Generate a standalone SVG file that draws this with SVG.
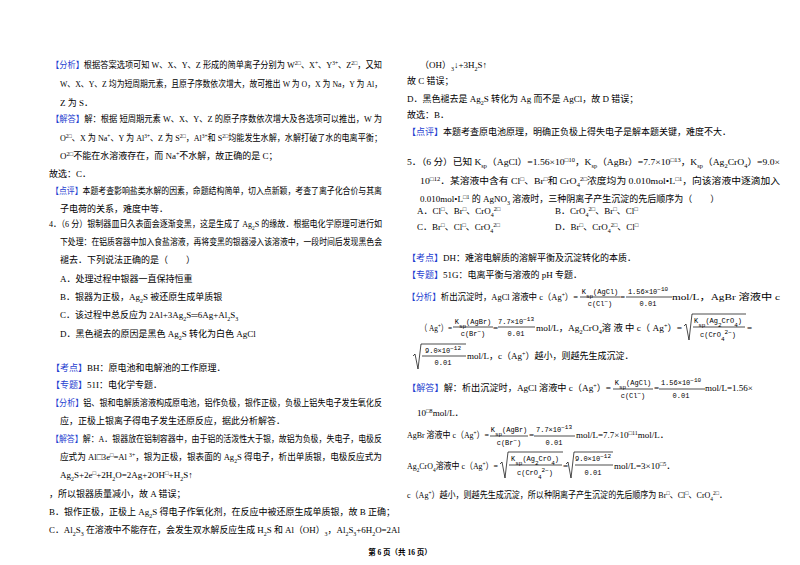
<svg xmlns="http://www.w3.org/2000/svg" width="800" height="565" viewBox="0 0 800 565">
<style>
text{font-family:"Liberation Serif","Noto Sans CJK SC",serif;font-size:9px;fill:#000}
.b{fill:#1f3fd0}
.s{font-size:6px}
.f{font-family:"Liberation Mono","Noto Sans CJK SC",monospace;font-size:7px}
.ft{font-size:7.5px;font-weight:bold}
line,path{stroke:#000;stroke-width:0.7;fill:none}
</style>
<rect width="800" height="565" fill="#fff"/>
<g id="left">
<text x="51" y="68" textLength="331" lengthAdjust="spacingAndGlyphs"><tspan class="b">【分析】</tspan>根据答案选项可知 W、X、Y、Z 形成的简单离子分别为 W<tspan class="s" baseline-shift="super">2□</tspan>、X<tspan class="s" baseline-shift="super">+</tspan>、Y<tspan class="s" baseline-shift="super">3+</tspan>、Z<tspan class="s" baseline-shift="super">2□</tspan>，又知</text>
<text x="60" y="87" textLength="322" lengthAdjust="spacingAndGlyphs">W、X、Y、Z 均为短周期元素，且原子序数依次增大，故可推出 W 为 O，X 为 Na，Y 为 Al，</text>
<text x="60" y="106">Z 为 S．</text>
<text x="51" y="122" textLength="331" lengthAdjust="spacingAndGlyphs"><tspan class="b">【解答】</tspan>解：根据 短周期元素 W、X、Y、Z 的原子序数依次增大及各选项可以推出，W 为</text>
<text x="60" y="141" textLength="322" lengthAdjust="spacingAndGlyphs">O<tspan class="s" baseline-shift="super">2□</tspan>、X 为 Na<tspan class="s" baseline-shift="super">+</tspan>、Y 为 Al<tspan class="s" baseline-shift="super">3+</tspan>、Z 为 S<tspan class="s" baseline-shift="super">2□</tspan>，Al<tspan class="s" baseline-shift="super">3+</tspan>和 S<tspan class="s" baseline-shift="super">2□</tspan>均能发生水解，水解打破了水的电离平衡；</text>
<text x="60" y="159">O<tspan class="s" baseline-shift="super">2□</tspan>不能在水溶液存在，而 Na<tspan class="s" baseline-shift="super">+</tspan>不水解，故正确的是 C；</text>
<text x="49" y="177">故选：C．</text>
<text x="51" y="194" textLength="331" lengthAdjust="spacingAndGlyphs"><tspan class="b">【点评】</tspan>本题考查影响盐类水解的因素，命题结构简单，切入点新颖，考查了离子化合价与其离</text>
<text x="60" y="212">子电荷的关系，难度中等．</text>
<text x="49" y="227" textLength="333" lengthAdjust="spacingAndGlyphs">4．（6 分）银制器皿日久表面会逐渐变黑，这是生成了 Ag<tspan class="s" baseline-shift="sub">2</tspan>S 的缘故．根据电化学原理可进行如</text>
<text x="60" y="245" textLength="322" lengthAdjust="spacingAndGlyphs">下处理：在铝质容器中加入食盐溶液，再将变黑的银器浸入该溶液中，一段时间后发现黑色会</text>
<text x="60" y="263">褪去．下列说法正确的是（　　）</text>
<text x="60" y="282">A．处理过程中银器一直保持恒重</text>
<text x="60" y="300">B．银器为正极，Ag<tspan class="s" baseline-shift="sub">2</tspan>S 被还原生成单质银</text>
<text x="60" y="318">C．该过程中总反应为 2Al+3Ag<tspan class="s" baseline-shift="sub">2</tspan>S═6Ag+Al<tspan class="s" baseline-shift="sub">2</tspan>S<tspan class="s" baseline-shift="sub">3</tspan></text>
<text x="60" y="337">D．黑色褪去的原因是黑色 Ag<tspan class="s" baseline-shift="sub">2</tspan>S 转化为白色 AgCl</text>
<text x="51" y="371"><tspan class="b">【考点】</tspan>BH：原电池和电解池的工作原理．</text>
<text x="51" y="388"><tspan class="b">【专题】</tspan>51I：电化学专题．</text>
<text x="51" y="406" textLength="331" lengthAdjust="spacingAndGlyphs"><tspan class="b">【分析】</tspan>铝、银和电解质溶液构成原电池，铝作负极，银作正极，负极上铝失电子发生氧化反</text>
<text x="60" y="424">应，正极上银离子得电子发生还原反应，据此分析解答．</text>
<text x="51" y="442" textLength="331" lengthAdjust="spacingAndGlyphs"><tspan class="b">【解答】</tspan>解：A．银器放在铝制容器中，由于铝的活泼性大于银，故铝为负极，失电子，电极反</text>
<text x="60" y="460" textLength="322" lengthAdjust="spacingAndGlyphs">应式为 Al□3e<tspan class="s" baseline-shift="super">□</tspan>=Al <tspan class="s" baseline-shift="super">3+</tspan>，银为正极，银表面的 Ag<tspan class="s" baseline-shift="sub">2</tspan>S 得电子，析出单质银，电极反应式为</text>
<text x="60" y="478">Ag<tspan class="s" baseline-shift="sub">2</tspan>S+2e<tspan class="s" baseline-shift="super">□</tspan>+2H<tspan class="s" baseline-shift="sub">2</tspan>O=2Ag+2OH<tspan class="s" baseline-shift="super">□</tspan>+H<tspan class="s" baseline-shift="sub">2</tspan>S↑</text>
<text x="49" y="497">，所以银器质量减小，故 A 错误；</text>
<text x="49" y="515">B．银作正极，正极上 Ag<tspan class="s" baseline-shift="sub">2</tspan>S 得电子作氧化剂，在反应中被还原生成单质银，故 B 正确；</text>
<text x="49" y="533" textLength="351" lengthAdjust="spacingAndGlyphs">C．Al<tspan class="s" baseline-shift="sub">2</tspan>S<tspan class="s" baseline-shift="sub">3</tspan> 在溶液中不能存在，会发生双水解反应生成 H<tspan class="s" baseline-shift="sub">2</tspan>S 和 Al（OH）<tspan class="s" baseline-shift="sub">3</tspan>，Al<tspan class="s" baseline-shift="sub">2</tspan>S<tspan class="s" baseline-shift="sub">3</tspan>+6H<tspan class="s" baseline-shift="sub">2</tspan>O=2Al</text>
</g>
<g id="right">
<text x="420" y="68">（OH）<tspan class="s" baseline-shift="sub">3</tspan>↓+3H<tspan class="s" baseline-shift="sub">2</tspan>S↑</text>
<text x="407" y="84">故 C 错误；</text>
<text x="407" y="102">D．黑色褪去是 Ag<tspan class="s" baseline-shift="sub">2</tspan>S 转化为 Ag 而不是 AgCl，故 D 错误；</text>
<text x="407" y="118">故选：B．</text>
<text x="407" y="135"><tspan class="b">【点评】</tspan>本题考查原电池原理，明确正负极上得失电子是解本题关键，难度不大．</text>
<text x="407" y="165" textLength="373" lengthAdjust="spacingAndGlyphs">5．（6 分）已知 K<tspan class="s" baseline-shift="sub">sp</tspan>（AgCl）=1.56×10<tspan class="s" baseline-shift="super">□10</tspan>，K<tspan class="s" baseline-shift="sub">sp</tspan>（AgBr）=7.7×10<tspan class="s" baseline-shift="super">□13</tspan>，K<tspan class="s" baseline-shift="sub">sp</tspan>（Ag<tspan class="s" baseline-shift="sub">2</tspan>CrO<tspan class="s" baseline-shift="sub">4</tspan>）=9.0×</text>
<text x="420" y="184" textLength="360" lengthAdjust="spacingAndGlyphs">10<tspan class="s" baseline-shift="super">□12</tspan>．某溶液中含有 Cl<tspan class="s" baseline-shift="super">□</tspan>、Br<tspan class="s" baseline-shift="super">□</tspan>和 CrO<tspan class="s" baseline-shift="sub">4</tspan><tspan class="s" baseline-shift="super">2□</tspan>浓度均为 0.010mol•L<tspan class="s" baseline-shift="super">□1</tspan>，向该溶液中逐滴加入</text>
<text x="420" y="202">0.010mol•L<tspan class="s" baseline-shift="super">□1</tspan> 的 AgNO<tspan class="s" baseline-shift="sub">3</tspan> 溶液时，三种阴离子产生沉淀的先后顺序为（　　）</text>
<text x="417" y="214">A．Cl<tspan class="s" baseline-shift="super">□</tspan>、Br<tspan class="s" baseline-shift="super">□</tspan>、CrO<tspan class="s" baseline-shift="sub">4</tspan><tspan class="s" baseline-shift="super">2□</tspan></text>
<text x="555" y="214">B．CrO<tspan class="s" baseline-shift="sub">4</tspan><tspan class="s" baseline-shift="super">2□</tspan>、Br<tspan class="s" baseline-shift="super">□</tspan>、Cl<tspan class="s" baseline-shift="super">□</tspan></text>
<text x="417" y="230">C．Br<tspan class="s" baseline-shift="super">□</tspan>、Cl<tspan class="s" baseline-shift="super">□</tspan>、CrO<tspan class="s" baseline-shift="sub">4</tspan><tspan class="s" baseline-shift="super">2□</tspan></text>
<text x="555" y="230">D．Br<tspan class="s" baseline-shift="super">□</tspan>、CrO<tspan class="s" baseline-shift="sub">4</tspan><tspan class="s" baseline-shift="super">2□</tspan>、Cl<tspan class="s" baseline-shift="super">□</tspan></text>
<text x="407" y="261"><tspan class="b">【考点】</tspan>DH：难溶电解质的溶解平衡及沉淀转化的本质．</text>
<text x="407" y="278"><tspan class="b">【专题】</tspan>51G：电离平衡与溶液的 pH 专题．</text>

<text x="407" y="300" textLength="171" lengthAdjust="spacingAndGlyphs"><tspan class="b">【分析】</tspan>析出沉淀时，AgCl 溶液中 c（Ag<tspan class="s" baseline-shift="super">+</tspan>）=</text>
<text class="f" x="600" y="294" text-anchor="middle">K<tspan class="s" baseline-shift="sub">sp</tspan>(AgCl)</text>
<line x1="580" y1="297" x2="620" y2="297"/>
<text class="f" x="600" y="306" text-anchor="middle">c(Cl<tspan class="s" baseline-shift="super">−</tspan>)</text>
<text x="620" y="300">=</text>
<text class="f" x="648" y="294" text-anchor="middle">1.56×10<tspan class="s" baseline-shift="super">−10</tspan></text>
<line x1="626" y1="297" x2="672" y2="297"/>
<text class="f" x="648" y="306" text-anchor="middle">0.01</text>
<text x="672" y="300" textLength="108" lengthAdjust="spacingAndGlyphs">mol/L，AgBr 溶液中 c</text>

<text x="420" y="331" textLength="32" lengthAdjust="spacingAndGlyphs">（ Ag<tspan class="s" baseline-shift="super">+</tspan>）=</text>
<text class="f" x="473" y="324" text-anchor="middle">K<tspan class="s" baseline-shift="sub">sp</tspan>(AgBr)</text>
<line x1="453" y1="327" x2="493" y2="327"/>
<text class="f" x="473" y="336" text-anchor="middle">c(Br<tspan class="s" baseline-shift="super">−</tspan>)</text>
<text x="493" y="331">=</text>
<text class="f" x="516" y="324" text-anchor="middle">7.7×10<tspan class="s" baseline-shift="super">−13</tspan></text>
<line x1="498" y1="327" x2="535" y2="327"/>
<text class="f" x="516" y="336" text-anchor="middle">0.01</text>
<text x="536" y="331" textLength="146" lengthAdjust="spacingAndGlyphs">mol/L，Ag<tspan class="s" baseline-shift="sub">2</tspan>CrO<tspan class="s" baseline-shift="sub">4</tspan>溶 液 中 c（ Ag<tspan class="s" baseline-shift="super">+</tspan>）=</text>
<path d="M684 326 L686 324 L689 340 L692 314 L746 314"/>
<text class="f" x="718" y="323" text-anchor="middle">K<tspan class="s" baseline-shift="sub">sp</tspan>(Ag<tspan class="s" baseline-shift="sub">2</tspan>CrO<tspan class="s" baseline-shift="sub">4</tspan>)</text>
<line x1="693" y1="327" x2="745" y2="327"/>
<text class="f" x="718" y="337" text-anchor="middle">c(CrO<tspan class="s" baseline-shift="sub">4</tspan><tspan class="s" baseline-shift="super">2−</tspan>)</text>
<text x="747" y="331">=</text>

<path d="M413 356 L415 354 L418 369 L421 344 L466 344"/>
<text class="f" x="443" y="353" text-anchor="middle">9.0×10<tspan class="s" baseline-shift="super">−12</tspan></text>
<line x1="422" y1="356" x2="466" y2="356"/>
<text class="f" x="443" y="365" text-anchor="middle">0.01</text>
<text x="467" y="359">mol/L，c（Ag<tspan class="s" baseline-shift="super">+</tspan>）越小，则越先生成沉淀．</text>

<text x="407" y="391" textLength="204" lengthAdjust="spacingAndGlyphs"><tspan class="b">【解答】</tspan>解：析出沉淀时，AgCl 溶液中 c（Ag<tspan class="s" baseline-shift="super">+</tspan>）=</text>
<text class="f" x="633" y="385" text-anchor="middle">K<tspan class="s" baseline-shift="sub">sp</tspan>(AgCl)</text>
<line x1="613" y1="389" x2="653" y2="389"/>
<text class="f" x="633" y="398" text-anchor="middle">c(Cl<tspan class="s" baseline-shift="super">−</tspan>)</text>
<text x="654" y="391">=</text>
<text class="f" x="681" y="385" text-anchor="middle">1.56×10<tspan class="s" baseline-shift="super">−10</tspan></text>
<line x1="659" y1="389" x2="705" y2="389"/>
<text class="f" x="681" y="398" text-anchor="middle">0.01</text>
<text x="705" y="391">mol/L=1.56×</text>
<text x="417" y="416">10<tspan class="s" baseline-shift="super">□8</tspan>mol/L．</text>

<text x="407" y="438" textLength="82" lengthAdjust="spacingAndGlyphs">AgBr 溶液中 c（Ag<tspan class="s" baseline-shift="super">+</tspan>）=</text>
<text class="f" x="509" y="432" text-anchor="middle">K<tspan class="s" baseline-shift="sub">sp</tspan>(AgBr)</text>
<line x1="490" y1="436" x2="528" y2="436"/>
<text class="f" x="509" y="445" text-anchor="middle">c(Br<tspan class="s" baseline-shift="super">−</tspan>)</text>
<text x="529" y="438">=</text>
<text class="f" x="554" y="432" text-anchor="middle">7.7×10<tspan class="s" baseline-shift="super">−13</tspan></text>
<line x1="534" y1="436" x2="575" y2="436"/>
<text class="f" x="554" y="445" text-anchor="middle">0.01</text>
<text x="576" y="438">mol/L=7.7×10<tspan class="s" baseline-shift="super">□11</tspan>mol/L．</text>

<text x="407" y="469" textLength="91" lengthAdjust="spacingAndGlyphs">Ag<tspan class="s" baseline-shift="sub">2</tspan>CrO<tspan class="s" baseline-shift="sub">4</tspan>溶液中 c（Ag<tspan class="s" baseline-shift="super">+</tspan>）=</text>
<path d="M500 464 L502 462 L505 478 L508 452 L563 452"/>
<text class="f" x="535" y="461" text-anchor="middle">K<tspan class="s" baseline-shift="sub">sp</tspan>(Ag<tspan class="s" baseline-shift="sub">2</tspan>CrO<tspan class="s" baseline-shift="sub">4</tspan>)</text>
<line x1="509" y1="465" x2="562" y2="465"/>
<text class="f" x="535" y="475" text-anchor="middle">c(CrO<tspan class="s" baseline-shift="sub">4</tspan><tspan class="s" baseline-shift="super">2−</tspan>)</text>
<text x="563" y="469">=</text>
<path d="M566 464 L568 462 L571 478 L574 452 L613 452"/>
<text class="f" x="593" y="461" text-anchor="middle">9.0×10<tspan class="s" baseline-shift="super">−12</tspan></text>
<line x1="575" y1="465" x2="613" y2="465"/>
<text class="f" x="593" y="475" text-anchor="middle">0.01</text>
<text x="614" y="469">mol/L=3×10<tspan class="s" baseline-shift="super">□5</tspan>．</text>

<text x="407" y="498" textLength="320" lengthAdjust="spacingAndGlyphs">c（Ag<tspan class="s" baseline-shift="super">+</tspan>）越小，则越先生成沉淀，所以种阴离子产生沉淀的先后顺序为 Br<tspan class="s" baseline-shift="super">□</tspan>、Cl<tspan class="s" baseline-shift="super">□</tspan>、CrO<tspan class="s" baseline-shift="sub">4</tspan><tspan class="s" baseline-shift="super">2□</tspan>．</text>
</g>
<g id="footer">
<text class="ft" x="400" y="555" text-anchor="middle">第 6 页（共 16 页）</text>
</g>
</svg>
